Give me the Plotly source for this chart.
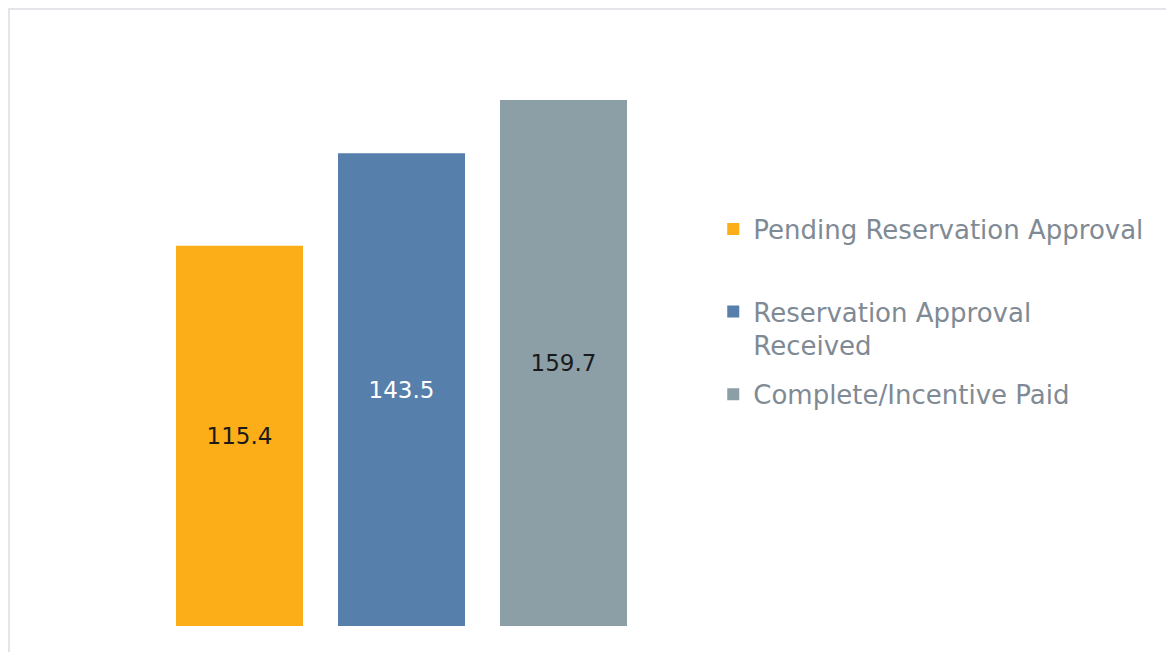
import plotly.graph_objects as go

# dados do gráfico
status = ['Pending Reservation Approval', 'Reservation Approval Received', 'Complete/Incentive Paid']
nomes_legenda = ['Pending Reservation Approval<br> ', 'Reservation Approval<br>Received', 'Complete/Incentive Paid']
valores = [115.4, 143.5, 159.7]
cores = ['#FBAE17', '#577FAB', '#8C9FA7']
cores_texto = ['#1a1a1a', '#ffffff', '#1a1a1a']
categoria = ['']

fig = go.Figure()
for i in range(len(status)):
    fig.add_trace(go.Bar(
        x=categoria, y=[valores[i]], name=nomes_legenda[i],
        marker=dict(color=cores[i], line=dict(width=0)),
        legendgroup=str(i),
        text=[f'{valores[i]:.1f}'], textposition='inside', insidetextanchor='middle',
        textfont=dict(color=cores_texto[i], size=23, family='DejaVu Sans'),
        textangle=0,
    ))

fig.update_layout(
    width=1174, height=652,
    margin=dict(l=92, r=479, t=25, b=34),
    barmode='group', bargap=0.194, bargroupgap=0.216,
    plot_bgcolor='white', paper_bgcolor='white',
    font=dict(family='DejaVu Sans', color='#808a94'),
    legend=dict(
        x=1.017, y=0.709, xanchor='left', yanchor='top',
        font=dict(size=26, color='#808a94'),
        valign='top', traceorder='grouped', tracegroupgap=12,
        bgcolor='rgba(0,0,0,0)',
    ),
    uniformtext=dict(minsize=10, mode='show'),
    # moldura cinza clara (só aparecem topo e esquerda)
    shapes=[dict(type='rect', xref='paper', yref='paper',
                 x0=-0.1509, x1=2.0, y0=-1.0, y1=1.0405,
                 line=dict(color='#e3e5e8', width=2), layer='below')],
)
fig.update_xaxes(visible=False)
fig.update_yaxes(visible=False, range=[0, 180])

fig.write_html("out.html")
